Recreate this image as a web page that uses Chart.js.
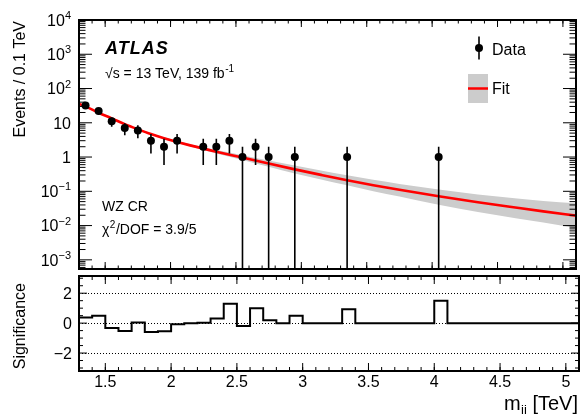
<!DOCTYPE html>
<html><head><meta charset="utf-8">
<script src="https://cdn.jsdelivr.net/npm/chart.js@4.4.0/dist/chart.umd.min.js"></script>
<style>
html,body{margin:0;padding:0;background:#fff;}
#wrap{position:relative;width:580px;height:414px;overflow:hidden;background:#fff;}
.box{position:absolute;left:0;width:580px;}
</style></head><body>
<div id="wrap">
<div class="box" style="top:0;height:273px"><canvas id="c1"></canvas></div>
<div class="box" style="top:273px;height:141px"><canvas id="c2"></canvas></div>
</div>
<script>
// ---------------- data ----------------
const binCenters = [1.35,1.45,1.55,1.65,1.75,1.85,1.95,2.05,2.25,2.35,2.45,2.55,2.65,2.75,2.95,3.35,4.05];
const dataCounts = [32,22,11,7,6,3,2,3,2,2,3,1,2,1,1,1,1];
const errUp   = [5.66,4.69,3.32,2.65,2.45,1.73,1.41,1.73,1.41,1.41,1.73,1,1.41,1,1,1,1];
const errDown = [5.66,4.69,3.32,2.65,2.45,1.73,1.41,1.73,1.41,1.41,1.73,1,1.41,1,1,1,1];

const fitX    = [1.30,1.35,1.45,1.55,1.65,1.75,1.85,1.95,2.15,2.35,2.55,2.75,2.95,3.15,3.35,3.55,3.75,4.05,4.35,4.65,4.85,5.10];
const fitY    = [35.5,30.0,19.7,13.5,9.12,6.46,4.68,3.55,2.19,1.43,0.966,0.646,0.437,0.302,0.211,0.151,0.111,0.0716,0.0479,0.0331,0.0260,0.0195];
const fitUp   = [38.0,32.1,20.9,14.1,9.55,6.76,4.90,3.76,2.37,1.60,1.135,0.794,0.562,0.403,0.292,0.216,0.164,0.1135,0.0813,0.0617,0.0519,0.0447];
const fitDown = [33.1,28.0,18.6,12.9,8.71,6.17,4.47,3.35,2.02,1.27,0.822,0.519,0.331,0.221,0.150,0.101,0.070,0.0403,0.0251,0.0162,0.0122,0.0083];

const sigLow  = [1.3,1.4,1.5,1.6,1.7,1.8,1.9,2.0,2.1,2.2,2.3,2.4,2.5,2.6,2.7,2.8,2.9,3.0,3.1,3.2,3.3,3.4,3.5,3.6,3.7,3.8,3.9,4.0,4.1,4.2,4.3,4.4,4.5,4.6,4.7,4.8,4.9,5.0];
const sigHigh = 5.1;
const sigVals = [0.38,0.49,-0.32,-0.52,0.05,-0.59,-0.55,-0.07,0,0.02,0.31,1.29,-0.2,0.99,0.2,0,0.49,0,0,0,0.92,0,0,0,0,0,0,1.49,0,0,0,0,0,0,0,0,0,0];

const xTickValues = [1.5,2,2.5,3,3.5,4,4.5,5];
const xTickLabels = ['1.5','2','2.5','3','3.5','4','4.5','5'];
const yDecades    = [-3,-2,-1,0,1,2,3,4];
const sigTickValues = [-2,0,2];
const sigTickLabels = ['\u22122','0','2'];

// ---------------- helpers ----------------
const FONT = "'Liberation Sans', Arial, Helvetica, sans-serif";
const X_MIN = 1.3, X_MAX = 5.1;

function minorXValues(){ const v=[]; for(let k=13;k<=51;k++) v.push(k/10); return v; }

function drawXTicks(ctx, x, a, majLen, minLen){
  ctx.beginPath();
  minorXValues().forEach(v=>{
    const px = x.getPixelForValue(v);
    ctx.moveTo(px, a.bottom); ctx.lineTo(px, a.bottom-minLen);
    ctx.moveTo(px, a.top); ctx.lineTo(px, a.top+minLen);
  });
  xTickValues.forEach(v=>{
    const px = x.getPixelForValue(v);
    ctx.moveTo(px, a.bottom); ctx.lineTo(px, a.bottom-majLen);
    ctx.moveTo(px, a.top); ctx.lineTo(px, a.top+majLen);
  });
  ctx.stroke();
}

function drawSupLabel(ctx, base, sup, xr, yc, baseSize, supSize){
  ctx.textBaseline='alphabetic';
  ctx.font = supSize+'px '+FONT;
  const sw = sup ? ctx.measureText(sup).width : 0;
  if(sup){ ctx.textAlign='right'; ctx.fillText(sup, xr, yc + baseSize*0.36 - baseSize*0.42); }
  ctx.font = baseSize+'px '+FONT;
  ctx.textAlign='right';
  ctx.fillText(base, xr - sw, yc + baseSize*0.36);
}

const common = {
  responsive:true, maintainAspectRatio:false, animation:false, events:[],
  plugins:{legend:{display:false}, tooltip:{enabled:false}}
};

// ---------------- main panel ----------------
const mainDecor = {
  id:'mainDecor',
  afterDatasetsDraw(chart){
    const {ctx, chartArea:a, scales:{x,y}} = chart;
    ctx.save();
    ctx.strokeStyle='#000'; ctx.lineWidth=1.6;
    ctx.beginPath();
    for(let i=0;i<binCenters.length;i++){
      const px = x.getPixelForValue(binCenters[i]);
      const top = y.getPixelForValue(dataCounts[i]+errUp[i]);
      const lo = dataCounts[i]-errDown[i];
      const bot = lo>0 ? Math.min(y.getPixelForValue(lo), a.bottom) : a.bottom;
      ctx.moveTo(px, Math.max(top,a.top)); ctx.lineTo(px, bot);
    }
    ctx.stroke();
    ctx.restore();
  },
  afterDraw(chart){
    const {ctx, chartArea:a, scales:{x,y}} = chart;
    ctx.save();
    ctx.strokeStyle='#000'; ctx.fillStyle='#000';
    // ticks
    ctx.lineWidth=1;
    drawXTicks(ctx, x, a, 7, 3.5);
    ctx.beginPath();
    for(let d=-4; d<=4; d++){
      for(let k=1;k<=9;k++){
        const v = k*Math.pow(10,d);
        if(v < y.min || v > y.max) continue;
        const py = y.getPixelForValue(v);
        const len = k===1 ? 13 : 6.5;
        ctx.moveTo(a.left, py); ctx.lineTo(a.left+len, py);
        ctx.moveTo(a.right, py); ctx.lineTo(a.right-len, py);
      }
    }
    ctx.stroke();
    // frame
    ctx.lineWidth=2;
    ctx.strokeRect(a.left, a.top, a.right-a.left, a.bottom-a.top);
    // y tick labels
    yDecades.forEach(d=>{
      const py = y.getPixelForValue(Math.pow(10,d));
      let base='10', sup=String(d).replace('-','\u2212');
      if(d===0){ base='1'; sup=''; }
      if(d===1){ base='10'; sup=''; }
      drawSupLabel(ctx, base, sup, 71, py, 16, 11);
    });
    // y title
    ctx.save();
    ctx.translate(25, 21); ctx.rotate(-Math.PI/2);
    ctx.font='16px '+FONT; ctx.textAlign='right'; ctx.textBaseline='alphabetic';
    ctx.fillText('Events / 0.1 TeV', 0, 0);
    ctx.restore();
    // ATLAS label
    ctx.textAlign='left'; ctx.textBaseline='alphabetic';
    ctx.font='italic bold 18px '+FONT;
    try{ ctx.letterSpacing='1px'; }catch(e){}
    ctx.fillText('ATLAS', 105, 53.5);
    try{ ctx.letterSpacing='0px'; }catch(e){}
    ctx.font='14px '+FONT;
    const t1='\u221As = 13 TeV, 139 fb';
    ctx.fillText(t1, 105, 77.5);
    const w1=ctx.measureText(t1).width;
    ctx.font='10px '+FONT;
    ctx.fillText('-1', 105+w1+0.5, 72);
    // region labels
    ctx.font='14px '+FONT;
    ctx.fillText('WZ CR', 102, 210.5);
    ctx.fillText('\u03C7', 102, 233.5);
    const wc = ctx.measureText('\u03C7').width;
    ctx.font='10px '+FONT;
    ctx.fillText('2', 102+wc+0.5, 227.5);
    const w2 = ctx.measureText('2').width;
    ctx.font='14px '+FONT;
    ctx.fillText('/DOF = 3.9/5', 102+wc+w2+1, 233.5);
    // legend
    ctx.lineWidth=1.6;
    ctx.beginPath(); ctx.moveTo(479,36.5); ctx.lineTo(479,59.5); ctx.stroke();
    ctx.beginPath(); ctx.arc(479,48,4,0,Math.PI*2); ctx.fill();
    ctx.font='16px '+FONT; ctx.textBaseline='alphabetic';
    ctx.fillText('Data', 492, 54.5);
    ctx.fillStyle='#cccccc'; ctx.fillRect(468,74,20,29);
    ctx.strokeStyle='#ff0000'; ctx.lineWidth=2.5;
    ctx.beginPath(); ctx.moveTo(468,88.5); ctx.lineTo(488,88.5); ctx.stroke();
    ctx.fillStyle='#000';
    ctx.fillText('Fit', 492, 93.5);
    ctx.restore();
  }
};

const pts = (xs, ys) => xs.map((v,i)=>({x:v, y:ys[i]}));

new Chart(document.getElementById('c1'), {
  type:'line',
  data:{ datasets:[
    { label:'Data', data:pts(binCenters, dataCounts), showLine:false, pointRadius:4,
      pointBackgroundColor:'#000', pointBorderColor:'#000', pointBorderWidth:0, order:0 },
    { label:'Fit', data:pts(fitX, fitY), borderColor:'#ff0000', borderWidth:2.6, pointRadius:0,
      cubicInterpolationMode:'monotone', fill:false, order:1 },
    { label:'FitUp', data:pts(fitX, fitUp), borderWidth:0, borderColor:'rgba(0,0,0,0)', pointRadius:0,
      cubicInterpolationMode:'monotone', fill:'+1', backgroundColor:'#cccccc', order:2 },
    { label:'FitDown', data:pts(fitX, fitDown), borderWidth:0, borderColor:'rgba(0,0,0,0)', pointRadius:0,
      cubicInterpolationMode:'monotone', fill:false, order:3 }
  ]},
  options:Object.assign({}, common, {
    layout:{padding:{left:79, right:1, top:20, bottom:2}},
    scales:{
      x:{type:'linear', min:X_MIN, max:X_MAX, display:false},
      y:{type:'logarithmic', min:5.4e-4, max:1e4, display:false}
    }
  }),
  plugins:[mainDecor]
});

// ---------------- significance panel ----------------
const sigDecor = {
  id:'sigDecor',
  beforeDatasetsDraw(chart){
    const {ctx, chartArea:a, scales:{y}} = chart;
    ctx.save();
    ctx.strokeStyle='#000'; ctx.lineWidth=1; ctx.setLineDash([1,2]);
    sigTickValues.forEach(v=>{
      const py = Math.round(y.getPixelForValue(v))+0.5;
      ctx.beginPath(); ctx.moveTo(a.left, py); ctx.lineTo(a.right, py); ctx.stroke();
    });
    ctx.restore();
  },
  afterDraw(chart){
    const {ctx, chartArea:a, scales:{x,y}} = chart;
    ctx.save();
    ctx.strokeStyle='#000'; ctx.fillStyle='#000'; ctx.lineWidth=1;
    drawXTicks(ctx, x, a, 8, 4);
    ctx.beginPath();
    for(let k=-6;k<=6;k++){
      const v=k/2; if(v<y.min||v>y.max) continue;
      const py=y.getPixelForValue(v);
      const len = (k%4===0) ? 8 : 4;
      ctx.moveTo(a.left,py); ctx.lineTo(a.left+len,py);
      ctx.moveTo(a.right,py); ctx.lineTo(a.right-len,py);
    }
    ctx.stroke();
    ctx.lineWidth=2;
    ctx.strokeRect(a.left, a.top, a.right-a.left, a.bottom-a.top);
    // y labels
    ctx.font='16px '+FONT; ctx.textAlign='right'; ctx.textBaseline='alphabetic';
    sigTickValues.forEach((v,i)=>{
      ctx.fillText(sigTickLabels[i], 72, y.getPixelForValue(v)+5.8);
    });
    // x labels
    ctx.textAlign='center';
    xTickValues.forEach((v,i)=>{
      ctx.fillText(xTickLabels[i], x.getPixelForValue(v), 113.5);
    });
    // x title
    ctx.textAlign='right';
    ctx.font='20px '+FONT;
    const tail=' [TeV]';
    ctx.fillText(tail, 578, 137);
    const wt = ctx.measureText(tail).width;
    ctx.font='13px '+FONT;
    ctx.fillText('jj', 578-wt, 141);
    const wj = ctx.measureText('jj').width;
    ctx.font='20px '+FONT;
    ctx.fillText('m', 578-wt-wj-0.5, 137);
    // y title
    ctx.save();
    ctx.translate(25, 10); ctx.rotate(-Math.PI/2);
    ctx.font='16px '+FONT; ctx.textAlign='right';
    ctx.fillText('Significance', 0, 0);
    ctx.restore();
    ctx.restore();
  }
};

const sigData = pts(sigLow, sigVals);
sigData.push({x:sigHigh, y:sigVals[sigVals.length-1]});

new Chart(document.getElementById('c2'), {
  type:'line',
  data:{ datasets:[
    { label:'Significance', data:sigData, stepped:true, borderColor:'#000', borderWidth:2,
      pointRadius:0, fill:false }
  ]},
  options:Object.assign({}, common, {
    layout:{padding:{left:79, right:1, top:3, bottom:43}},
    scales:{
      x:{type:'linear', min:X_MIN, max:X_MAX, display:false},
      y:{type:'linear', min:-3.2, max:3.15, display:false}
    }
  }),
  plugins:[sigDecor]
});
</script>
</body></html>
